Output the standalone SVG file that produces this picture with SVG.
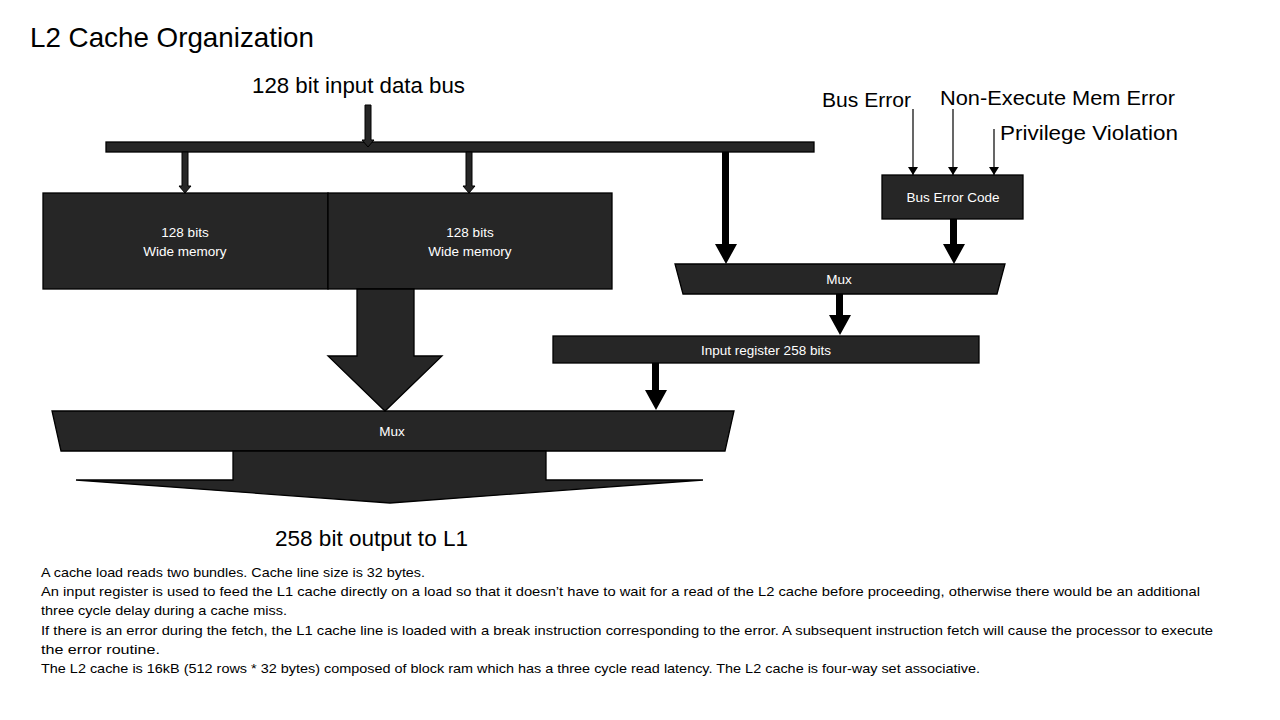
<svg xmlns="http://www.w3.org/2000/svg" width="1280" height="720" viewBox="0 0 1280 720">
<style>
.blk{fill:#262626;stroke:#000;stroke-width:1.3}
.arr{fill:#000;stroke:none}
.garr{fill:#262626;stroke:#000;stroke-width:1}
.thin{stroke:#000;stroke-width:1.2;fill:none}
.lbl{font-family:"Liberation Sans",Arial,sans-serif;fill:#000}
.in{font-family:"Liberation Sans",Arial,sans-serif;fill:#fff;font-size:13.5px;text-anchor:middle}
.body{font-family:"Liberation Sans",Arial,sans-serif;fill:#000;font-size:13.5px}
</style>
<defs>
<marker id="sh" viewBox="0 0 8 10" refX="8" refY="5" markerWidth="8" markerHeight="10" markerUnits="userSpaceOnUse" orient="auto">
<path d="M0,0 L8,5 L0,10 Z" fill="#000"/>
</marker>
</defs>
<rect width="1280" height="720" fill="#fff"/>
<text class="lbl" x="30" y="47" font-size="28" textLength="284" lengthAdjust="spacingAndGlyphs">L2 Cache Organization</text>
<text class="lbl" x="252" y="93" font-size="22" textLength="213" lengthAdjust="spacingAndGlyphs">128 bit input data bus</text>

<g id="bus">
<rect class="blk" x="106" y="142" width="708" height="10"/>
</g>
<g id="memory-left">
<rect class="blk" x="43" y="193" width="285" height="96"/>
<text class="in" x="185" y="237">128 bits</text>
<text class="in" x="185" y="256">Wide memory</text>
</g>
<g id="memory-right">
<rect class="blk" x="328" y="193" width="284" height="96"/>
<text class="in" x="470" y="237">128 bits</text>
<text class="in" x="470" y="256">Wide memory</text>
</g>
<g id="bus-error-code">
<rect class="blk" x="882" y="175" width="141" height="44"/>
<text class="in" x="953" y="202">Bus Error Code</text>
</g>
<g id="mux-small">
<polygon class="blk" points="675,264 1005,264 997,294 683,294"/>
<text class="in" x="839" y="284">Mux</text>
</g>
<g id="input-register">
<rect class="blk" x="553" y="336" width="426" height="27"/>
<text class="in" x="766" y="355">Input register 258 bits</text>
</g>
<g id="mux-big">
<polygon class="blk" points="52,411 734,411 725,451 61,451"/>
<text class="in" x="392" y="436">Mux</text>
</g>

<g id="connectors">
<polygon class="garr" points="365,105 371,105 371,140 374,140 368,147 362,140 365,140"/>
<polygon class="garr" points="182,152 188,152 188,186 191,186 185,193 179,186 182,186"/>
<polygon class="garr" points="466,152 472,152 472,186 475,186 469,193 463,186 466,186"/>
<polygon class="arr" points="722,152 729,152 729,244 737,244 726,264 715,244 722,244"/>
<polygon class="arr" points="950,219 957,219 957,244 965,244 954,264 943,244 950,244"/>
<polygon class="arr" points="836,294 843,294 843,315 851,315 840,335 829,315 836,315"/>
<polygon class="arr" points="652,363 659,363 659,390 667,390 656,410 645,390 652,390"/>
<polygon class="blk" points="357,289 414,289 414,356 442,356 385,411 328,356 357,356"/>
<polygon class="blk" points="233,451 546,451 546,480 703,480 390,503 76,480 233,480"/>
<line class="thin" x1="913" y1="109" x2="913" y2="175" marker-end="url(#sh)"/>
<line class="thin" x1="953" y1="109" x2="953" y2="175" marker-end="url(#sh)"/>
<line class="thin" x1="994" y1="129" x2="994" y2="175" marker-end="url(#sh)"/>
</g>

<text class="lbl" x="822" y="107" font-size="20" textLength="89" lengthAdjust="spacingAndGlyphs">Bus Error</text>
<text class="lbl" x="940" y="105" font-size="20" textLength="235" lengthAdjust="spacingAndGlyphs">Non-Execute Mem Error</text>
<text class="lbl" x="1000" y="140" font-size="20" textLength="178" lengthAdjust="spacingAndGlyphs">Privilege Violation</text>
<text class="lbl" x="275" y="546" font-size="22" textLength="193" lengthAdjust="spacingAndGlyphs">258 bit output to L1</text>

<g id="notes">
<text class="body" x="41" y="577" textLength="384" lengthAdjust="spacingAndGlyphs">A cache load reads two bundles. Cache line size is 32 bytes.</text>
<text class="body" x="41" y="596" textLength="1159" lengthAdjust="spacingAndGlyphs">An input register is used to feed the L1 cache directly on a load so that it doesn’t have to wait for a read of the L2 cache before proceeding, otherwise there would be an additional</text>
<text class="body" x="41" y="615" textLength="246" lengthAdjust="spacingAndGlyphs">three cycle delay during a cache miss.</text>
<text class="body" x="41" y="635" textLength="1172" lengthAdjust="spacingAndGlyphs">If there is an error during the fetch, the L1 cache line is loaded with a break instruction corresponding to the error.  A subsequent instruction fetch will cause the processor to execute</text>
<text class="body" x="41" y="654" textLength="119" lengthAdjust="spacingAndGlyphs">the error routine.</text>
<text class="body" x="41" y="673" textLength="939" lengthAdjust="spacingAndGlyphs">The L2 cache is 16kB (512 rows * 32 bytes) composed of block ram which has a three cycle read latency. The L2 cache is four-way set associative.</text>
</g>
</svg>
